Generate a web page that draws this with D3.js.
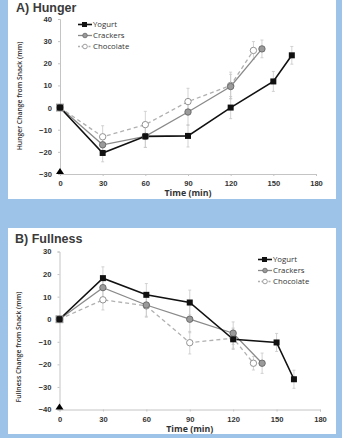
<!DOCTYPE html>
<html><head><meta charset="utf-8">
<script src="https://cdn.jsdelivr.net/npm/d3@7"></script>
<style>html,body{margin:0;padding:0;background:#9dc4e8;}svg{display:block;}</style>
</head><body>
<script>
// ---- data ----
const seriesNames = ["Yogurt", "Crackers", "Chocolate"];
const xTicks = [0, 30, 60, 90, 120, 150, 180];

// A) Hunger
const hungerYogurtT = [0, 30, 60, 90, 120, 150, 163];
const hungerYogurtV = [0, -20.5, -13, -12.8, 0, 11.8, 23.6];
const hungerYogurtE = [0, 4, 5, 5, 5, 4.5, 4];
const hungerCrackersT = [0, 30, 60, 90, 120, 142];
const hungerCrackersV = [0, -16.8, -13, -2, 9.5, 26.5];
const hungerCrackersE = [0, 4, 5, 6, 5.5, 4];
const hungerChocolateT = [0, 30, 60, 90, 120, 136];
const hungerChocolateV = [0, -13.2, -7.7, 2.7, 10, 25.8];
const hungerChocolateE = [0, 5, 6, 6, 6, 4];
const hungerYTicks = [-30, -20, -10, 0, 10, 20, 30, 40];

// B) Fullness
const fullYogurtT = [0, 30, 60, 90, 120, 150, 162];
const fullYogurtV = [0, 18.2, 10.8, 7.4, -8.9, -10.3, -26.6];
const fullYogurtE = [0, 5, 5, 5.5, 4.5, 4, 4];
const fullCrackersT = [0, 30, 60, 90, 120, 140];
const fullCrackersV = [0, 14, 6.3, 0, -6.2, -19.5];
const fullCrackersE = [0, 5, 5, 6, 5, 4.5];
const fullChocolateT = [0, 30, 60, 90, 120, 134];
const fullChocolateV = [0, 8.6, 5.9, -10.4, -8.4, -19.5];
const fullChocolateE = [0, 4.5, 5, 5, 4.5, 3];
const fullYTicks = [-40, -30, -20, -10, 0, 10, 20, 30];

const W = 342, H = 438;
const svg = d3.select("body").append("svg").attr("width", W).attr("height", H);

// white panels
svg.append("rect").attr("x", 8).attr("y", 0).attr("width", 328).attr("height", 199).attr("fill", "#fff");
svg.append("rect").attr("x", 8).attr("y", 228).attr("width", 328).attr("height", 206).attr("fill", "#fff");

const styles = {
  Yogurt: {color: "#111", width: 1.6, dash: null, marker: "square", fill: "#111", stroke: "#111"},
  Crackers: {color: "#8a8a8a", width: 1.3, dash: null, marker: "circle", fill: "#9a9a9a", stroke: "#666"},
  Chocolate: {color: "#b0b0b0", width: 1.3, dash: "4,3", marker: "circle", fill: "#fff", stroke: "#888"}
};

function drawChart(cfg) {
  const g = svg.append("g");
  const x = d3.scaleLinear().domain([0, 180]).range(cfg.xr);
  const y = d3.scaleLinear().domain(cfg.yd).range(cfg.yr);
  const font = "'Open Sans', 'DejaVu Sans', sans-serif";
  const font2 = "'Liberation Sans', Arial, sans-serif";

  // title
  g.append("text").attr("x", cfg.titleX).attr("y", cfg.titleY).text(cfg.title)
    .attr("font-family", font2).attr("font-size", 12.5).attr("font-weight", 700).attr("fill", "#3a3a3a");

  // axes
  const xAxis = g.append("g").attr("transform", `translate(0,${y(cfg.yd[0])})`)
    .call(d3.axisBottom(x).tickValues(xTicks).tickSize(2).tickPadding(5));
  const yAxis = g.append("g").attr("transform", `translate(${x(0)},0)`)
    .call(d3.axisLeft(y).tickValues(cfg.yTicks).tickSize(2).tickPadding(6));
  [xAxis, yAxis].forEach(a => {
    a.select(".domain").attr("stroke", "#c4c4c4").attr("stroke-width", 1);
    a.selectAll(".tick line").attr("stroke", "#c4c4c4");
    a.selectAll(".tick text").attr("font-family", font2).attr("font-size", 7.6)
      .attr("font-weight", 700).attr("fill", "#333");
  });

  // axis titles
  g.append("text").attr("x", (x(0) + x(180)) / 2).attr("y", cfg.xLabelY).attr("text-anchor", "middle")
    .attr("font-family", font).attr("font-size", 8.8).attr("font-weight", 700).attr("fill", "#333")
    .text("Time (min)");
  g.append("text").attr("transform", `translate(${cfg.yLabelX},${cfg.yLabelCY}) rotate(-90)`)
    .attr("text-anchor", "middle").attr("font-family", font).attr("font-size", 6.8)
    .attr("font-weight", 600).attr("fill", "#333").text(cfg.yLabel);

  // series
  const line = d3.line().x(d => x(d.t)).y(d => y(d.v));
  cfg.series.forEach(s => {
    const pts = s.t.map((t, i) => ({t, v: s.v[i], e: s.e[i]}));
    pts.filter(p => p.e > 0).forEach(p => {
      const eg = g.append("g").attr("stroke", "#c8c8c8").attr("stroke-width", 0.8);
      eg.append("line").attr("x1", x(p.t)).attr("x2", x(p.t)).attr("y1", y(p.v - p.e)).attr("y2", y(p.v + p.e));
      eg.append("line").attr("x1", x(p.t) - 1.5).attr("x2", x(p.t) + 1.5).attr("y1", y(p.v - p.e)).attr("y2", y(p.v - p.e));
      eg.append("line").attr("x1", x(p.t) - 1.5).attr("x2", x(p.t) + 1.5).attr("y1", y(p.v + p.e)).attr("y2", y(p.v + p.e));
    });
    s.pts = pts;
  });
  cfg.series.slice().reverse().forEach(s => {
    const st = styles[s.name];
    g.append("path").datum(s.pts).attr("d", line).attr("fill", "none")
      .attr("stroke", st.color).attr("stroke-width", st.width).attr("stroke-dasharray", st.dash);
  });
  cfg.series.slice().reverse().forEach(s => {
    const st = styles[s.name];
    s.pts.forEach((p, i) => {
      if (st.marker === "square") {
        g.append("rect").attr("x", x(p.t) - 3).attr("y", y(p.v) - 3).attr("width", 6).attr("height", 6)
          .attr("fill", st.fill);
      } else if (i === 0 && s.name === "Chocolate") {
        g.append("rect").attr("x", x(p.t) - 3.5).attr("y", y(p.v) - 3.5).attr("width", 7).attr("height", 7)
          .attr("fill", "#fff").attr("stroke", "#999").attr("stroke-width", 0.9);
      } else {
        g.append("circle").attr("cx", x(p.t)).attr("cy", y(p.v)).attr("r", 3.2)
          .attr("fill", st.fill).attr("stroke", st.stroke).attr("stroke-width", 0.9);
      }
    });
  });

  // black triangle at origin of axes
  const tx = x(0), ty = y(cfg.yd[0]);
  g.append("path").attr("d", `M${tx - 4},${ty}L${tx + 4},${ty}L${tx},${ty - 6}Z`).attr("fill", "#000");

  // legend
  cfg.series.forEach((s, i) => {
    const st = styles[s.name];
    const ly = cfg.legY + i * cfg.legStep;
    g.append("line").attr("x1", cfg.legX).attr("x2", cfg.legX + 14).attr("y1", ly).attr("y2", ly)
      .attr("stroke", st.color).attr("stroke-width", st.width).attr("stroke-dasharray", s.name === "Chocolate" ? "2,1.5" : null);
    if (st.marker === "square") {
      g.append("rect").attr("x", cfg.legX + 4).attr("y", ly - 2.5).attr("width", 5).attr("height", 5).attr("fill", st.fill);
    } else {
      g.append("circle").attr("cx", cfg.legX + 7).attr("cy", ly).attr("r", 2.3)
        .attr("fill", st.fill).attr("stroke", st.stroke).attr("stroke-width", 0.8);
    }
    g.append("text").attr("x", cfg.legX + 15).attr("y", ly + 2.6).text(s.name)
      .attr("font-family", font).attr("font-size", 7.8).attr("fill", "#333");
  });
}

drawChart({
  title: "A) Hunger", titleX: 16, titleY: 11.6,
  xr: [60, 316], yd: [-30, 40], yr: [174, 19], yTicks: hungerYTicks,
  xLabelY: 196, yLabelX: 22, yLabelCY: 96,
  yLabel: "Hunger Change from Snack (mm)",
  legX: 78, legY: 24.5, legStep: 11,
  series: [
    {name: "Yogurt", t: hungerYogurtT, v: hungerYogurtV, e: hungerYogurtE},
    {name: "Crackers", t: hungerCrackersT, v: hungerCrackersV, e: hungerCrackersE},
    {name: "Chocolate", t: hungerChocolateT, v: hungerChocolateV, e: hungerChocolateE}
  ]
});

drawChart({
  title: "B) Fullness", titleX: 15, titleY: 243,
  xr: [59.5, 320], yd: [-40, 30], yr: [409.5, 251.5], yTicks: fullYTicks,
  xLabelY: 432, yLabelX: 21, yLabelCY: 347,
  yLabel: "Fullness Change from Snack (mm)",
  legX: 258, legY: 259.5, legStep: 11,
  series: [
    {name: "Yogurt", t: fullYogurtT, v: fullYogurtV, e: fullYogurtE},
    {name: "Crackers", t: fullCrackersT, v: fullCrackersV, e: fullCrackersE},
    {name: "Chocolate", t: fullChocolateT, v: fullChocolateV, e: fullChocolateE}
  ]
});
</script>
</body></html>
